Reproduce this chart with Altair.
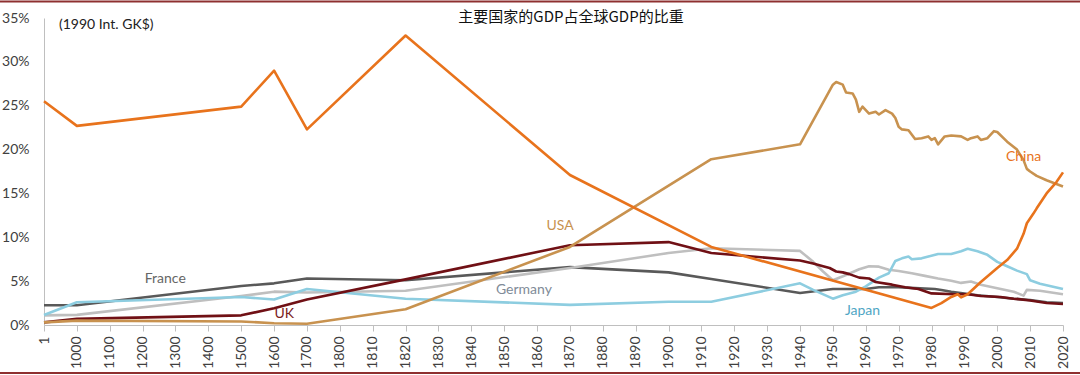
import altair as alt
import pandas as pd

# ---------------- data (share of world GDP, %) ----------------
countries = ["France", "Germany", "Japan", "UK", "USA", "China"]

france_years = [1, 1000, 1500, 1600, 1700, 1820, 1870, 1900, 1913, 1940, 1950, 1960, 1964, 1970, 1975,
                1981, 1983, 1986, 1990, 1994, 2000, 2005, 2010, 2015, 2020]
france_share = [2.25, 2.25, 4.45, 4.75, 5.3, 5.1, 6.6, 6.0, 5.25, 3.65, 4.1, 4.1, 4.3, 4.3, 4.2,
                4.1, 4.0, 3.8, 3.6, 3.4, 3.2, 3.0, 2.85, 2.6, 2.5]

germany_years = [1, 1000, 1500, 1600, 1700, 1820, 1870, 1900, 1913, 1940, 1944, 1947, 1950, 1954, 1958,
                 1961, 1964, 1967, 1970, 1974, 1978, 1982, 1986, 1989, 1992, 1995, 2000, 2005, 2008,
                 2009, 2013, 2020]
germany_share = [1.1, 1.15, 3.3, 3.8, 3.7, 3.9, 6.5, 8.2, 8.75, 8.45, 7.2, 6.1, 5.1, 5.7, 6.35,
                 6.7, 6.65, 6.3, 6.15, 5.9, 5.6, 5.3, 5.05, 4.8, 4.95, 4.6, 4.2, 3.8, 3.35,
                 4.0, 3.9, 3.5]

japan_years = [1, 1000, 1500, 1600, 1700, 1820, 1870, 1900, 1913, 1940, 1944, 1950, 1953, 1957, 1960,
               1964, 1967, 1969, 1971, 1973, 1974, 1977, 1982, 1986, 1989, 1991, 1994, 1997, 2000,
               2003, 2006, 2009, 2010, 2013, 2020]
japan_share = [1.15, 2.6, 3.2, 2.9, 4.1, 3.0, 2.3, 2.65, 2.65, 4.75, 4.0, 3.0, 3.4, 3.8, 4.4,
               5.4, 5.9, 7.3, 7.6, 7.8, 7.5, 7.6, 8.1, 8.1, 8.4, 8.7, 8.4, 8.0, 7.2,
               6.7, 6.2, 5.8, 5.1, 4.7, 4.1]

uk_years = [1, 1000, 1500, 1600, 1700, 1820, 1870, 1900, 1913, 1940, 1944, 1947, 1949, 1951, 1953,
            1955, 1958, 1961, 1963, 1968, 1972, 1976, 1980, 1987, 1991, 1995, 2001, 2005, 2010,
            2015, 2020]
uk_share = [0.3, 0.7, 1.1, 1.9, 2.9, 5.2, 9.1, 9.45, 8.2, 7.35, 7.0, 6.7, 6.5, 6.1, 6.0,
            5.8, 5.4, 5.3, 4.9, 4.6, 4.3, 4.1, 3.6, 3.5, 3.5, 3.3, 3.2, 3.0, 2.8,
            2.5, 2.4]

usa_years = [1, 1000, 1500, 1600, 1700, 1820, 1870, 1913, 1940, 1950, 1951, 1953, 1954, 1956,
             1957, 1958, 1959, 1961, 1963, 1964, 1966, 1968, 1969, 1970, 1971, 1973, 1975, 1977,
             1979, 1980, 1981, 1982, 1984, 1986, 1989, 1991, 1992, 1994, 1995, 1997, 1999, 2000,
             2003, 2006, 2008, 2009, 2010, 2012, 2015, 2020]
usa_share = [0.3, 0.5, 0.4, 0.2, 0.15, 1.8, 8.9, 18.9, 20.6, 27.4, 27.7, 27.4, 26.5, 26.4,
             25.7, 24.3, 24.9, 24.1, 24.3, 24.0, 24.5, 24.1, 23.6, 22.6, 22.3, 22.2, 21.2, 21.3,
             21.5, 21.1, 21.3, 20.6, 21.5, 21.6, 21.5, 21.1, 21.3, 21.5, 21.1, 21.3, 22.1, 22.0,
             20.9, 20.0, 18.8, 17.8, 17.5, 17.0, 16.5, 15.8]

china_years = [1, 1000, 1500, 1600, 1700, 1820, 1870, 1913, 1980, 1983, 1986, 1988, 1989, 1991,
               1995, 2000, 2003, 2006, 2008, 2009, 2011, 2012, 2015, 2018, 2020]
china_share = [25.5, 22.7, 24.9, 29.0, 22.3, 33.0, 17.1, 8.9, 1.95, 2.5, 3.2, 3.5, 3.15, 3.5,
               4.9, 6.5, 7.4, 8.7, 10.4, 11.6, 12.7, 13.3, 15.0, 16.3, 17.4]

# series label anchors (in data units: year, share %)
label_years = [1269, 1856, 1959, 1631, 1867, 2008]
label_shares = [5.25, 4.0, 1.6, 1.31, 11.3, 19.1]

title_text = "主要国家的GDP占全球GDP的比重"
unit_text = "(1990 Int. GK$)"

# ---------------- styles ----------------
line_colors = {"France": "#595959", "Germany": "#BFBFBF", "Japan": "#8DCDE0",
               "UK": "#701015", "USA": "#C8924F", "China": "#E8731C"}
label_colors = {"France": "#666666", "Germany": "#808B98", "Japan": "#4FA6C4",
                "UK": "#7A1C1C", "USA": "#C8924F", "China": "#E8731C"}

series = {
    "France": (france_years, france_share),
    "Germany": (germany_years, germany_share),
    "Japan": (japan_years, japan_share),
    "UK": (uk_years, uk_share),
    "USA": (usa_years, usa_share),
    "China": (china_years, china_share),
}
rows = []
for c in countries:
    ys, vs = series[c]
    for y, v in zip(ys, vs):
        rows.append({"country": c, "year": y, "share": v})
df = pd.DataFrame(rows)

labels_df = pd.DataFrame({"country": countries, "year": label_years, "share": label_shares})

# category-style axis: 1, 1000..1800 step 100, 1810..2020 step 10 -> equal spacing
pos_expr = ("datum.year < 1000 ? (datum.year - 1) / 999 : "
            "(datum.year <= 1800 ? 1 + (datum.year - 1000) / 100 : 9 + (datum.year - 1800) / 10)")
label_expr = ("datum.value == 0 ? '1' : (datum.value <= 9 ? '' + (900 + datum.value * 100) : "
              "'' + (1800 + (datum.value - 9) * 10))")

AXIS_GRAY = "#BFBFBF"
x_scale = alt.Scale(domain=[0, 31], nice=False, zero=False)
y_scale = alt.Scale(domain=[0, 35], nice=False)
x_axis = alt.Axis(values=list(range(32)), labelExpr=label_expr, labelAngle=270,
                  labelFlush=False, labelOverlap=False, labelBound=False,
                  tickSize=6, labelPadding=5,
                  domainColor=AXIS_GRAY, tickColor=AXIS_GRAY, grid=False, title=None,
                  labelFont="Lato", labelFontSize=14, labelColor="#404040")
y_axis = alt.Axis(values=[0, 5, 10, 15, 20, 25, 30, 35], labelExpr="datum.value + '%'",
                  labelFlush=False, labelOverlap=False, tickSize=0, labelPadding=15,
                  domainColor=AXIS_GRAY, grid=False, title=None, labelFont="Lato",
                  labelFontSize=14, labelColor="#404040")
x_enc = alt.X("pos:Q", scale=x_scale, axis=x_axis)
y_enc = alt.Y("share:Q", scale=y_scale, axis=y_axis)

base = alt.Chart(df).transform_calculate(pos=pos_expr)

layers = []
for c in countries:
    layers.append(
        base.transform_filter(alt.datum.country == c)
        .mark_line(color=line_colors[c], strokeWidth=2.6, strokeJoin="round")
        .encode(x=x_enc, y=y_enc)
    )

lab_base = alt.Chart(labels_df).transform_calculate(pos=pos_expr)
for c in countries:
    layers.append(
        lab_base.transform_filter(alt.datum.country == c)
        .mark_text(font="Lato", fontSize=14, align="center", baseline="middle",
                   color=label_colors[c])
        .encode(x=x_enc, y=y_enc, text="country:N")
    )

title_layer = alt.Chart(pd.DataFrame({"t": [title_text]})).mark_text(
    font="Noto Sans CJK SC", fontSize=15, align="center", baseline="middle", color="#111111"
).encode(x=alt.value(527), y=alt.value(-1.5), text="t:N")

unit_layer = alt.Chart(pd.DataFrame({"t": [unit_text]})).mark_text(
    font="Lato", fontSize=14, align="left", baseline="middle", color="#222222"
).encode(x=alt.value(15), y=alt.value(7), text="t:N")

border_df = pd.DataFrame({"k": [0]})
top_border = alt.Chart(border_df).mark_rule(color="#8E3030", strokeWidth=2).encode(
    x=alt.value(-44), x2=alt.value(1036), y=alt.value(-16.5))
bottom_border = alt.Chart(border_df).mark_rule(color="#8E3030", strokeWidth=2).encode(
    x=alt.value(-44), x2=alt.value(1036), y=alt.value(355))

chart = alt.layer(*layers, title_layer, unit_layer, top_border, bottom_border).properties(
    width=1019, height=307,
    autosize=alt.AutoSizeParams(type="none"),
    padding={"left": 44, "top": 18, "right": 17, "bottom": 50},
    background="white",
).configure_view(stroke="transparent")

chart.save("out.html", embed_options={"renderer": "svg", "actions": False})
